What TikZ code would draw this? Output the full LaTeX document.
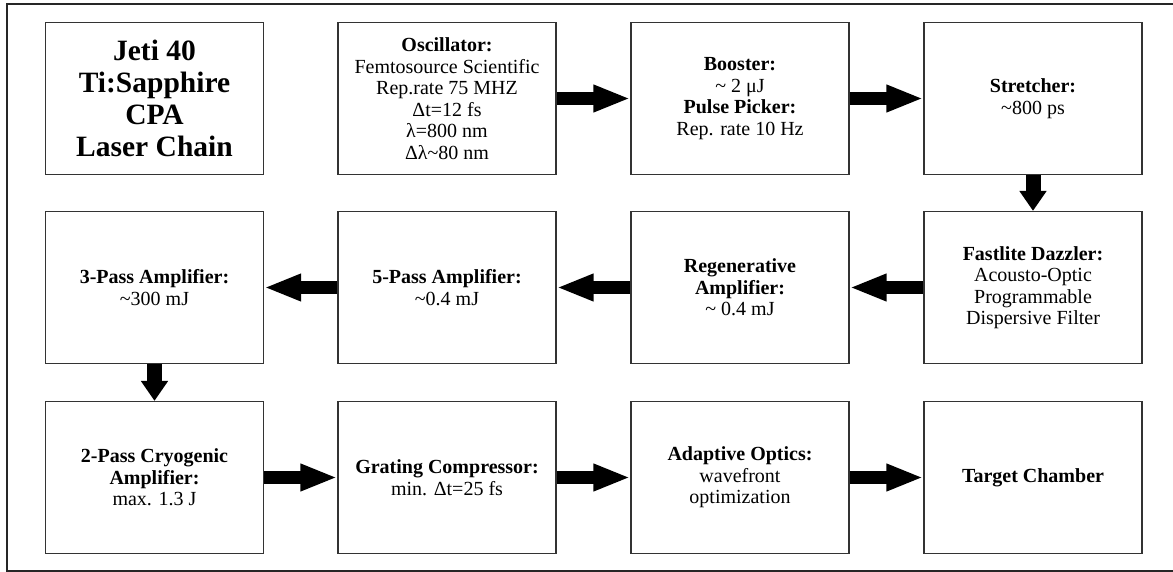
\documentclass[tikz,border=0pt]{standalone}
\usepackage{fontspec}
\setmainfont{Liberation Serif}
\usetikzlibrary{arrows.meta}
\tikzset{
  stage/.style={draw=black!80, line width=1.2pt, minimum width=218pt, minimum height=152pt,
    align=center, inner sep=2pt, font=\fontsize{20}{21.5}\selectfont},
  title/.style={stage, font=\fontsize{29.5}{32}\selectfont\bfseries},
  harrow/.style={line width=13pt, -{Triangle[length=37pt, width=25pt]}},
  varrow/.style={line width=15pt, -{Triangle[length=20pt, width=26pt]}},
}
\begin{document}
\begin{tikzpicture}[x=1pt, y=-1pt]
\useasboundingbox (0,0) rectangle (1173,572);
\draw[line width=1.5pt, black!85] (1185,4) -- (7,4) -- (7,571) -- (1185,571);

\node[title] (jeti) at (154.5,98.5) {Jeti 40\\Ti:Sapphire\\CPA\\Laser Chain};
\node[stage] (osc) at (447,98.5) {\textbf{Oscillator:}\\Femtosource Scientific\\Rep.rate 75 MHZ\\Δt=12 fs\\λ=800 nm\\Δλ\textasciitilde80 nm};
\node[stage] (boost) at (740,98.5) {\textbf{Booster:}\\\textasciitilde{} 2 μJ\\\textbf{Pulse Picker:}\\Rep. rate 10 Hz};
\node[stage] (str) at (1033,98.5) {\textbf{Stretcher:}\\\textasciitilde800 ps};

\node[stage] (pass3) at (154.5,287.5) {\textbf{3-Pass Amplifier:}\\\textasciitilde300 mJ};
\node[stage] (pass5) at (447,287.5) {\textbf{5-Pass Amplifier:}\\\textasciitilde0.4 mJ};
\node[stage] (regen) at (740,287.5) {\textbf{Regenerative}\\\textbf{Amplifier:}\\\textasciitilde{} 0.4 mJ};
\node[stage] (dazz) at (1033,287.5) {\textbf{Fastlite Dazzler:}\\Acousto-Optic\\Programmable\\Dispersive Filter};

\node[stage] (cryo) at (154.5,477.5) {\textbf{2-Pass Cryogenic}\\\textbf{Amplifier:}\\max. 1.3 J};
\node[stage] (comp) at (447,477.5) {\textbf{Grating Compressor:}\\min. Δt=25 fs};
\node[stage] (ao) at (740,477.5) {\textbf{Adaptive Optics:}\\wavefront\\optimization};
\node[stage] (target) at (1033,477.5) {\textbf{Target Chamber}};

\draw[harrow] (osc.east) -- (boost.west);
\draw[harrow] (boost.east) -- (str.west);
\draw[varrow] (str.south) -- (dazz.north);
\draw[harrow] (dazz.west) -- (regen.east);
\draw[harrow] (regen.west) -- (pass5.east);
\draw[harrow] (pass5.west) -- (pass3.east);
\draw[varrow] (pass3.south) -- (cryo.north);
\draw[harrow] (cryo.east) -- (comp.west);
\draw[harrow] (comp.east) -- (ao.west);
\draw[harrow] (ao.east) -- (target.west);
\end{tikzpicture}
\end{document}
